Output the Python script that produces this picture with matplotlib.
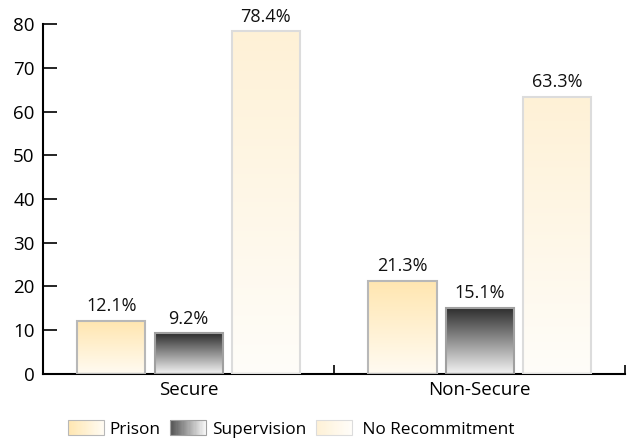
import numpy as np
import matplotlib
matplotlib.use("Agg")
import matplotlib.pyplot as plt
from matplotlib.patches import Rectangle
from matplotlib.legend_handler import HandlerBase
from matplotlib.colors import to_rgb

plt.rcParams['font.family'] = ['Open Sans', 'DejaVu Sans']

groups = ['Secure', 'Non-Secure']
series = ['Prison', 'Supervision', 'No Recommitment']
values = {
    'Prison': [12.1, 21.3],
    'Supervision': [9.2, 15.1],
    'No Recommitment': [78.4, 63.3],
}

# top colour, bottom colour, edge colour
styles = {
    'Prison': ('#ffe6b0', '#fffbf2', '#b8b8b8'),
    'Supervision': ('#2e2e2e', '#f4f4f4', '#a0a0a0'),
    'No Recommitment': ('#fef1d6', '#fffdf9', '#dcdcdc'),
}


def gradient(top, bottom, n=256):
    t = np.linspace(0, 1, n)[:, None]
    c = np.array(to_rgb(top)) * (1 - t) + np.array(to_rgb(bottom)) * t
    return c[:, None, :]


class GradientHandler(HandlerBase):
    def __init__(self, top, bottom, edge):
        super().__init__()
        self.top, self.bottom, self.edge = top, bottom, edge

    def create_artists(self, legend, orig_handle, xdescent, ydescent,
                       width, height, fontsize, trans):
        arts = []
        n = 30
        c0 = np.array(to_rgb(self.top))
        c1 = np.array(to_rgb(self.bottom))
        for i in range(n):
            f = i / (n - 1)
            r = Rectangle((-xdescent + width * i / n, -ydescent), width / n + 0.3,
                          height, facecolor=c0 * (1 - f) + c1 * f,
                          edgecolor='none', transform=trans)
            arts.append(r)
        arts.append(Rectangle((-xdescent, -ydescent), width, height,
                              facecolor='none', edgecolor=self.edge,
                              lw=0.8, transform=trans))
        return arts


fig = plt.figure(figsize=(6.28, 4.4), dpi=100)
ax = fig.add_axes([0.0685, 0.151, 0.927, 0.794])

x = np.arange(len(groups)) + 0.5
width = 0.234
step = 0.265

handles = []
for i, name in enumerate(series):
    top, bottom, edge = styles[name]
    pos = x + (i - 1) * step
    bars = ax.bar(pos, values[name], width, facecolor='none',
                  edgecolor=edge, linewidth=1.5, zorder=3)
    for b, v in zip(bars, values[name]):
        im = ax.imshow(gradient(top, bottom), aspect='auto',
                       extent=(b.get_x(), b.get_x() + b.get_width(), 0, v),
                       zorder=2, interpolation='bilinear')
        im.set_clip_path(b)
        ax.text(b.get_x() + b.get_width() / 2, v + 1.3, f'{v:.1f}%',
                ha='center', va='bottom', fontsize=13, color='#111111')
    handles.append(bars[0])

ax.set_xlim(0, 2)
ax.set_ylim(0, 80)
ax.set_yticks(np.arange(0, 81, 10))
ax.set_xticks([0, 1, 2])
ax.set_xticklabels([])
ax.tick_params(axis='y', direction='in', length=10, width=1.2,
               labelsize=13.5, pad=6)
ax.tick_params(axis='x', direction='in', length=6.5, width=1.2)
for gx, g in zip(x, groups):
    ax.text(gx, -1.8, g, ha='center', va='top', fontsize=13.5,
            transform=ax.transData)

for s in ['top', 'right']:
    ax.spines[s].set_visible(False)
for s in ['left', 'bottom']:
    ax.spines[s].set_linewidth(1.5)

handler_map = {h: GradientHandler(*styles[n]) for h, n in zip(handles, series)}
handler_map[handles[1]] = GradientHandler('#555555', '#f8f8f8', '#a0a0a0')
labels = ['Prison', 'Supervision', ' No Recommitment']
fig.legend(handles, labels, handler_map=handler_map, loc='lower left',
           bbox_to_anchor=(0.083, -0.03), ncol=3, frameon=False,
           fontsize=12.4, handlelength=2.1, handleheight=0.95,
           columnspacing=0.6, handletextpad=0.3)

fig.savefig('out.png', dpi=100)
